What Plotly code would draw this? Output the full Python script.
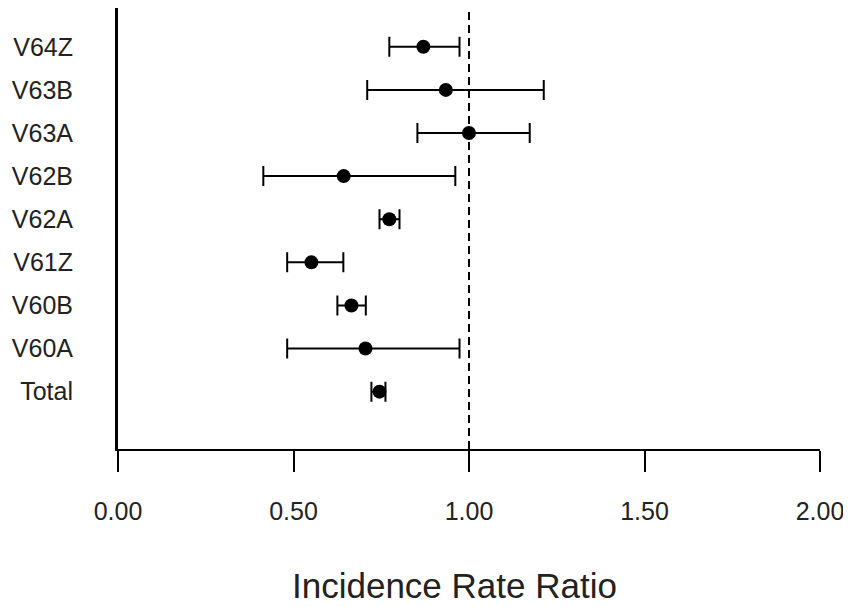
"""Forest plot of incidence rate ratios with 95% CI per code."""

import plotly.graph_objects as go

# data (bottom row first)
codes = ['Total', 'V60A', 'V60B', 'V61Z', 'V62A', 'V62B', 'V63A', 'V63B', 'V64Z']
irr = [0.745, 0.705, 0.665, 0.551, 0.773, 0.643, 1.000, 0.934, 0.870]
ci_low = [0.722, 0.482, 0.625, 0.482, 0.745, 0.414, 0.853, 0.710, 0.773]
ci_high = [0.762, 0.973, 0.706, 0.642, 0.802, 0.961, 1.173, 1.213, 0.973]
x_ticks = [0.0, 0.5, 1.0, 1.5, 2.0]

FONT = 'Liberation Sans, Arial, sans-serif'

err_plus = [h - v for h, v in zip(ci_high, irr)]
err_minus = [v - l for v, l in zip(irr, ci_low)]

fig = go.Figure()

# reference line at IRR = 1
fig.add_trace(
    go.Scatter(
        x=[1.0, 1.0],
        y=[-1.33, 8.9],
        mode='lines',
        line=dict(color='black', width=2, dash='8px,5px'),
        hoverinfo='skip',
        showlegend=False,
    )
)

fig.add_trace(
    go.Scatter(
        x=irr,
        y=list(range(len(codes))),
        mode='markers',
        marker=dict(symbol='circle', size=14, color='black'),
        error_x=dict(
            type='data',
            symmetric=False,
            array=err_plus,
            arrayminus=err_minus,
            color='black',
            thickness=2,
            width=10,
        ),
        customdata=codes,
        hovertemplate='%{customdata}: %{x:.2f}<extra></extra>',
        showlegend=False,
    )
)

fig.update_xaxes(
    range=[0, 2],
    tickvals=x_ticks,
    tickformat='.2f',
    ticks='outside',
    ticklen=21,
    tickwidth=1.5,
    tickcolor='black',
    showline=True,
    linecolor='black',
    linewidth=1.5,
    showgrid=False,
    zeroline=False,
    tickfont=dict(family=FONT, size=25, color='#222'),
    ticklabelstandoff=18,
)

fig.update_yaxes(
    range=[-1.33, 8.9],
    tickvals=list(range(len(codes))),
    ticktext=codes,
    ticks='',
    showline=True,
    linecolor='black',
    linewidth=3,
    showgrid=False,
    zeroline=False,
    tickfont=dict(family=FONT, size=25, color='#222'),
    ticklabelstandoff=37,
)

# x title sits a bit left of the plot centre in the original
fig.add_annotation(
    text='Incidence Rate Ratio',
    xref='paper',
    yref='paper',
    x=0.48,
    y=-0.31,
    xanchor='center',
    yanchor='middle',
    showarrow=False,
    font=dict(family=FONT, size=35, color='#222'),
)

# page body adds an 8px offset, so the figure is sized to fit inside it
fig.update_layout(
    width=843,
    height=599,
    margin=dict(l=110, r=31, t=0, b=158, autoexpand=False),
    plot_bgcolor='white',
    paper_bgcolor='white',
)

fig.write_html('out.html')
